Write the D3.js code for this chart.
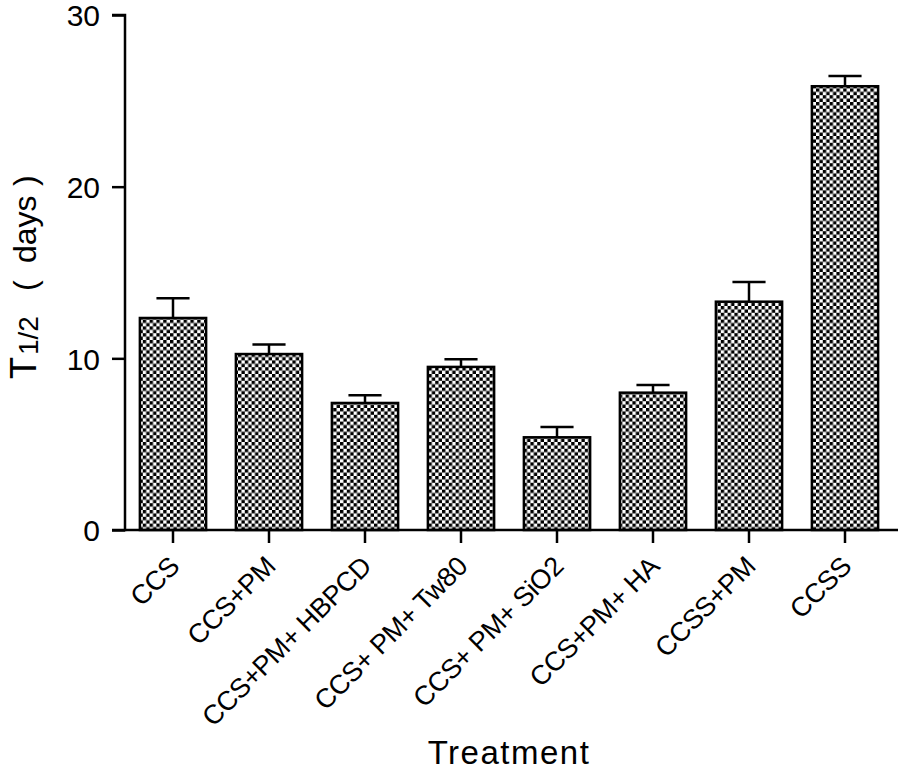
<!DOCTYPE html>
<html><head><meta charset="utf-8">
<script src="https://cdn.jsdelivr.net/npm/d3@7"></script>
<style>body{margin:0;background:#fff}svg{display:block;font-family:"Liberation Sans",Arial,sans-serif}</style>
</head><body>
<svg id="c" width="898" height="773"></svg>
<script>
const categories = ["CCS","CCS+PM","CCS+PM+ HBPCD","CCS+ PM+ Tw80","CCS+ PM+ SiO2","CCS+PM+ HA","CCSS+PM","CCSS"];
const means = [12.35, 10.25, 7.4, 9.5, 5.4, 8.0, 13.3, 25.85];
const errors = [1.15, 0.55, 0.45, 0.45, 0.6, 0.45, 1.15, 0.6];
const yTicks = [0, 10, 20, 30];

const svg = d3.select("#c");
const x0 = 125, x1 = 893, yTop = 15, yBot = 530;
const x = d3.scaleBand().domain(categories).range([x0, x1]).paddingInner(0.31).paddingOuter(0.155);
const y = d3.scaleLinear().domain([0, 30]).range([yBot, yTop]);

const defs = svg.append("defs");
const s = 3.4;
const pat = defs.append("pattern").attr("id","chk").attr("patternUnits","userSpaceOnUse")
  .attr("width", 2*s).attr("height", 2*s);
pat.append("rect").attr("width",2*s).attr("height",2*s).attr("fill","#fff");
pat.append("rect").attr("width",s).attr("height",s).attr("fill","#000");
pat.append("rect").attr("x",s).attr("y",s).attr("width",s).attr("height",s).attr("fill","#000");

// bars
svg.selectAll("rect.bar").data(categories).enter().append("rect")
  .attr("class","bar")
  .attr("x", d => x(d))
  .attr("y", (d,i) => y(means[i]))
  .attr("width", x.bandwidth())
  .attr("height", (d,i) => y(0) - y(means[i]))
  .attr("fill","url(#chk)").attr("stroke","#000").attr("stroke-width",2.5);

// error bars
const eg = svg.append("g").attr("stroke","#000").attr("stroke-width",2.5);
categories.forEach((c,i) => {
  const cx = x(c) + x.bandwidth()/2;
  eg.append("line").attr("x1",cx).attr("x2",cx).attr("y1",y(means[i])).attr("y2",y(means[i]+errors[i]));
  eg.append("line").attr("x1",cx - x.bandwidth()/4).attr("x2",cx + x.bandwidth()/4)
    .attr("y1",y(means[i]+errors[i])).attr("y2",y(means[i]+errors[i]));
});

// y axis
const ya = svg.append("g").attr("transform",`translate(${x0},0)`)
  .call(d3.axisLeft(y).tickValues(yTicks).tickSize(13).tickPadding(12));
ya.select(".domain").attr("stroke-width",2.5).attr("d",`M-13,${yTop}H0V${yBot}H-13`);
ya.selectAll(".tick line").attr("stroke-width",2.5);
ya.selectAll(".tick text").attr("font-size",30).attr("fill","#000").attr("dy","0.36em");

// x axis
const xa = svg.append("g").attr("transform",`translate(0,${yBot})`)
  .call(d3.axisBottom(x).tickSize(13).tickSizeOuter(0));
xa.select(".domain").attr("stroke-width",2.5).attr("d",`M${x0},0H${x1+5}`);
xa.selectAll(".tick line").attr("stroke-width",2.5);
xa.selectAll(".tick text").attr("font-size",27).attr("fill","#000")
  .attr("text-anchor","end").attr("letter-spacing","-0.4px")
  .attr("transform","translate(8,38) rotate(-45)").attr("dy",0).attr("y",0).attr("dx",0);

// y label
const yl = svg.append("text").attr("transform","translate(36,0) rotate(-90)").attr("fill","#000");
yl.append("tspan").attr("x",-379).attr("font-size",36).text("T");
yl.append("tspan").attr("x",-355).attr("dy",2).attr("font-size",28).text("1/2");
yl.append("tspan").attr("x",-291).attr("dy",-2).attr("font-size",32).text("(");
yl.append("tspan").attr("x",-263).attr("font-size",32).text("days");
yl.append("tspan").attr("x",-186).attr("font-size",32).text(")");

// x label
svg.append("text").attr("x",509).attr("y",764).attr("text-anchor","middle")
  .attr("font-size",33).attr("letter-spacing","1.5px").attr("fill","#000").text("Treatment");
</script>
</body></html>
